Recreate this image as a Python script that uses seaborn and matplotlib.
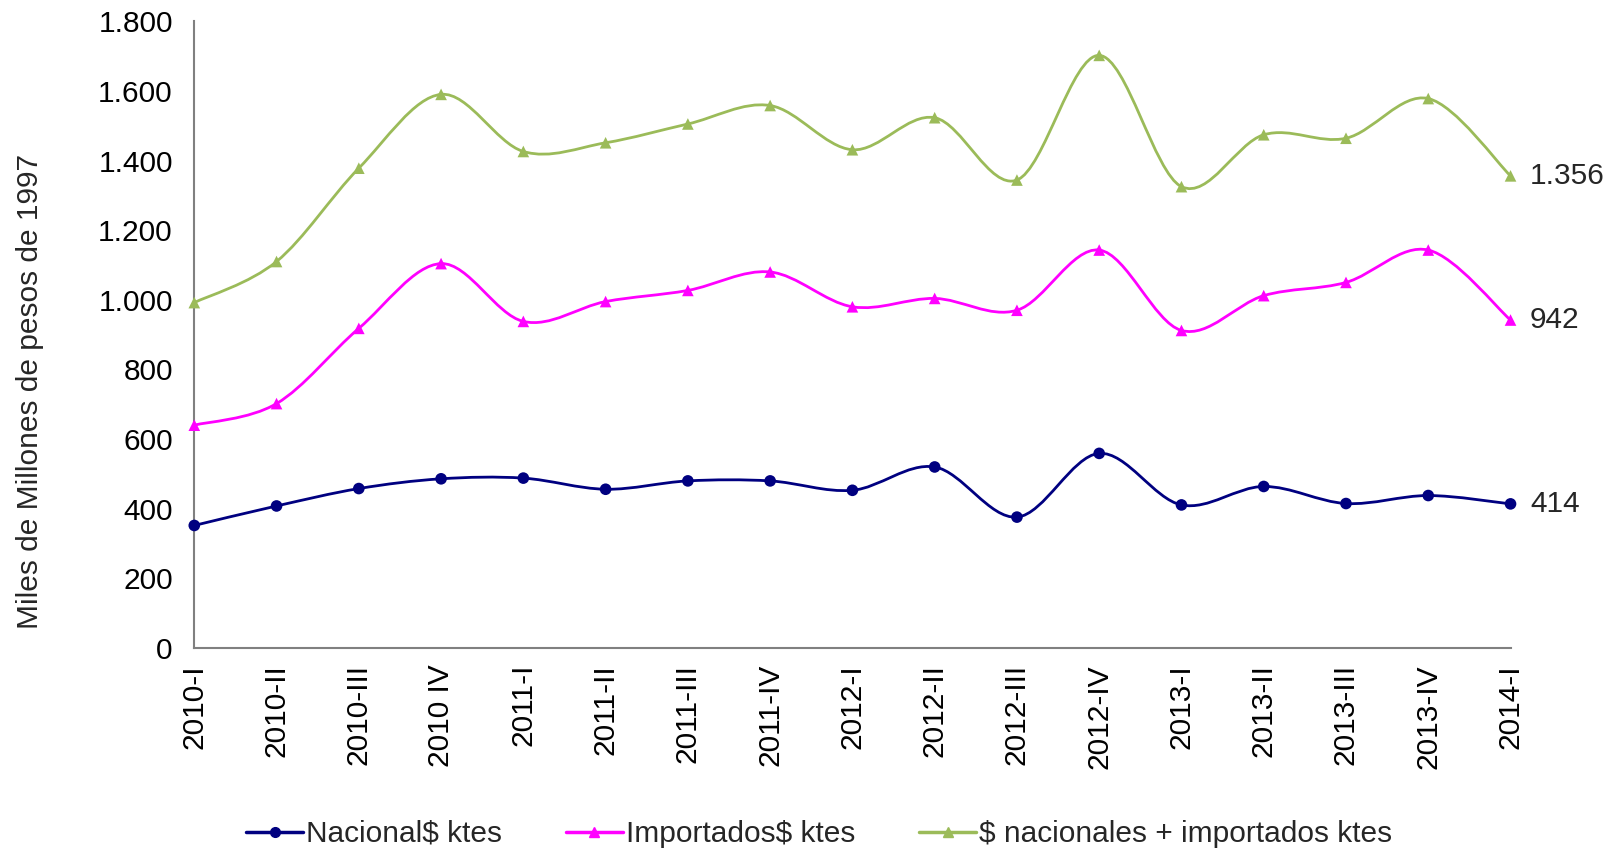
import numpy as np
import pandas as pd
import seaborn as sns
import matplotlib.pyplot as plt
from matplotlib.path import Path
from matplotlib.patches import PathPatch
from matplotlib.lines import Line2D
from matplotlib.ticker import FuncFormatter

# Data (miles de millones de pesos de 1997)
periodos = ["2010-I", "2010-II", "2010-III", "2010 IV", "2011-I", "2011-II", "2011-III",
            "2011-IV", "2012-I", "2012-II", "2012-III", "2012-IV", "2013-I", "2013-II",
            "2013-III", "2013-IV", "2014-I"]
nacional = [352, 408, 458, 486, 488, 456, 480, 480, 453, 520, 376, 559, 411, 464, 415, 438, 414]
importados = [640, 702, 918, 1104, 938, 995, 1027, 1080, 980, 1004, 970, 1143, 912, 1012, 1050, 1143, 942]
total = [992, 1110, 1378, 1590, 1426, 1451, 1505, 1558, 1431, 1523, 1344, 1702, 1325, 1474, 1464, 1578, 1356]

series = [
    ("Nacional$ ktes", nacional, "#000080", "o"),
    ("Importados$ ktes", importados, "#FF00FF", "^"),
    ("$ nacionales + importados ktes", total, "#9BBB59", "^"),
]

FS = 21.5

sns.set_style("white")
plt.rcParams["font.family"] = ["Liberation Sans", "DejaVu Sans"]

fig = plt.figure(figsize=(16.19, 8.5), dpi=100)
ax = fig.add_axes([0.120, 0.2376, 0.813, 0.7374])

pos = np.arange(len(periodos))


def smooth_path(x, y):
    # Excel-style smoothed line as cubic Bezier segments through the points
    pts = np.column_stack([x, y]).astype(float)
    ext = np.vstack([pts[0], pts, pts[-1]])
    verts = [pts[0]]
    codes = [Path.MOVETO]
    for i in range(len(pts) - 1):
        p0, p1, p2, p3 = ext[i], ext[i + 1], ext[i + 2], ext[i + 3]
        c1 = p1 + (p2 - p0) / 6.0
        c2 = p2 - (p3 - p1) / 6.0
        verts += [c1, c2, p2]
        codes += [Path.CURVE4] * 3
    return Path(verts, codes)


handles = []
for name, vals, color, mk in series:
    patch = PathPatch(smooth_path(pos, vals), facecolor="none", edgecolor=color,
                      lw=2.0, clip_on=False, zorder=2)
    ax.add_patch(patch)
    df = pd.DataFrame({"x": pos, "y": vals})
    sns.scatterplot(data=df, x="x", y="y", marker=mk, color=color, s=70,
                    edgecolor="none", ax=ax, clip_on=False, zorder=3)
    handles.append(Line2D([0], [0], color=color, lw=2.5, marker=mk, markersize=7, label=name))
    ax.annotate(f"{vals[-1]:,}".replace(",", "."), xy=(pos[-1], vals[-1]),
                xytext=(14, 0), textcoords="offset points", va="center", ha="left",
                fontsize=FS)

ax.set_xlim(0, len(periodos) - 1)
ax.set_ylim(0, 1800)
ax.set_yticks(range(0, 1801, 200))
ax.yaxis.set_major_formatter(FuncFormatter(lambda v, p: f"{int(v):,}".replace(",", ".")))
ax.set_xticks(pos)
ax.set_xticklabels(periodos, rotation=90)

for side in ["top", "right"]:
    ax.spines[side].set_visible(False)
for side in ["left", "bottom"]:
    ax.spines[side].set_color("#808080")
    ax.spines[side].set_linewidth(1.5)

ax.tick_params(axis="both", direction="inout", length=13, width=1.3, color="#707070",
               labelsize=FS, labelcolor="black")
ax.tick_params(axis="y", pad=9)
ax.tick_params(axis="x", pad=5)

ax.set_xlabel("")
ax.set_ylabel("Miles de Millones de pesos de 1997", fontsize=FS)
ax.yaxis.set_label_coords(-0.114, 0.41)

fig.legend(handles=handles, loc="center", bbox_to_anchor=(0.506, 1 - 834 / 850), ncol=3,
           frameon=False, fontsize=FS, handlelength=1.9, handletextpad=0.1,
           columnspacing=2.15)

fig.savefig("out.png", dpi=100)
plt.close(fig)
